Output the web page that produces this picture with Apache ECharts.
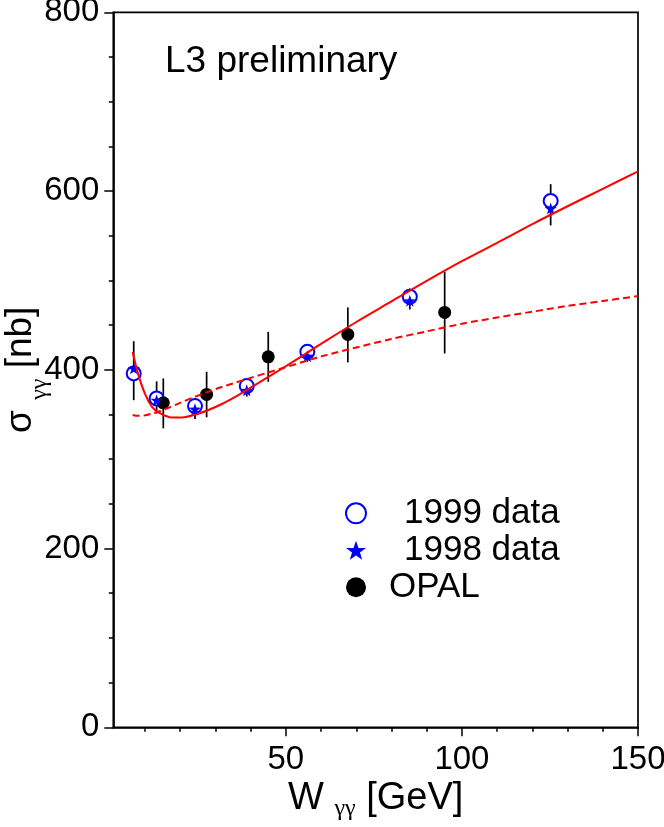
<!DOCTYPE html>
<html>
<head>
<meta charset="utf-8">
<script src="https://cdn.jsdelivr.net/npm/echarts@6/dist/echarts.min.js"></script>
<style>
html,body{margin:0;padding:0;background:#fff;}
#chart{width:664px;height:827px;}
</style>
</head>
<body>
<div id="chart"></div>
<script>
// ---- data ----
const x1999 = [6.8, 13.3, 24.2, 38.9, 56.1, 85.2, 125.2];
const y1999 = [396, 368, 359.4, 381.8, 420.1, 481.7, 589];
const lo1999 = [366, 351, 345, 370, 409, 467.5, 561.5];
const hi1999 = [432, 387, 368, 389, 428, 491, 607.7];

const x1998 = [6.8, 13.3, 24.2, 38.9, 56.1, 85.2, 125.2];
const y1998 = [401.6, 366, 356, 377, 415.3, 477.2, 580.5];

const xOpal = [15.2, 27.5, 45.0, 67.6, 95.1];
const yOpal = [363, 372.5, 414.5, 439.6, 464.2];
const loOpal = [334.5, 346.8, 386.6, 408.3, 418.3];
const hiOpal = [390.4, 397.8, 442.5, 469.8, 509.6];

const fitX = [6.5, 8, 10, 12, 14, 17, 20, 24, 28, 32, 36, 40, 45, 50, 55, 60, 70, 80, 90, 100, 110, 120, 130, 140, 150];
const fitSolid = [420, 396, 373, 358.5, 352, 347, 346.5, 349.5, 355, 362, 370.5, 380, 392, 404, 416.5, 429, 453.5, 476.5, 499.5, 521.5, 542, 563, 583, 602.5, 622];
const fitDashed = [349.5, 348.5, 349, 351, 353.5, 358, 363, 369.5, 375.5, 381, 386, 391, 397, 403, 409, 415, 425, 434.5, 443, 451.5, 458.5, 465, 471.5, 477, 482.5];

const xLabelValues = [50, 100, 150];
const xMinorTickValues = [10, 20, 30, 40, 60, 70, 80, 90, 110, 120, 130, 140];
const seriesNames = ['1999 data', '1998 data', 'OPAL'];

// ---- build ----
const zip = (xs, ys) => xs.map((x, i) => [x, ys[i]]);
const errData = [];
x1999.forEach((x, i) => errData.push([x, lo1999[i], hi1999[i]]));
xOpal.forEach((x, i) => errData.push([x, loOpal[i], hiOpal[i]]));

const STAR = 'path://M0,-10 L2.35,-3.24 L9.51,-3.09 L3.8,1.24 L5.88,8.09 L0,4 L-5.88,8.09 L-3.8,1.24 L-9.51,-3.09 L-2.35,-3.24 Z';
const FONT = '"Liberation Sans", Arial, Helvetica, sans-serif';
const SERIF = '"Liberation Serif", "DejaVu Serif", serif';

const chart = echarts.init(document.getElementById('chart'), null, {renderer: 'canvas'});
chart.setOption({
  animation: false,
  backgroundColor: '#fff',
  textStyle: {fontFamily: FONT},
  grid: {left: 113.3, right: 26, top: 12.3, bottom: 99.7, containLabel: false, outerBoundsMode: 'none',
         show: true, borderColor: '#000', borderWidth: 1.7, backgroundColor: 'transparent'},
  xAxis: [{
    type: 'value', min: 1, max: 150,
    splitLine: {show: false},
    axisLine: {show: true, onZero: false, lineStyle: {color: '#000', width: 1.7}},
    axisTick: {show: true, inside: false, length: 9, customValues: xLabelValues, lineStyle: {color: '#000', width: 1.5}},
    axisLabel: {show: true, customValues: xLabelValues, color: '#000', fontSize: 33, fontFamily: FONT, margin: 16},
    name: '{m|W }{s|γγ}{m| [GeV]}',
    nameLocation: 'middle', nameGap: 52, nameMoveOverlap: false,
    nameTextStyle: {
      rich: {
        m: {fontSize: 38, lineHeight: 38, color: '#000', fontFamily: FONT},
        s: {fontSize: 24, lineHeight: 24, color: '#000', fontFamily: SERIF, padding: [20, 0, 0, 0]}
      }
    }
  }, {
    type: 'value', min: 1, max: 150, position: 'bottom',
    splitLine: {show: false},
    axisLine: {show: false},
    axisTick: {show: true, inside: false, length: 4.5, customValues: xMinorTickValues, lineStyle: {color: '#000', width: 1.5}},
    axisLabel: {show: false}
  }],
  yAxis: {
    type: 'value', min: 0, max: 800, interval: 200,
    splitLine: {show: false},
    axisLine: {show: true, onZero: false, lineStyle: {color: '#000', width: 1.7}},
    axisTick: {show: true, inside: false, length: 9, lineStyle: {color: '#000', width: 1.5}},
    minorTick: {show: true, splitNumber: 4, length: 4.5, lineStyle: {color: '#000', width: 1.5}},
    axisLabel: {color: '#000', fontSize: 33, fontFamily: FONT, margin: 14},
    name: '{m|σ }{s|γγ}{m| [nb]}',
    nameLocation: 'middle', nameRotate: 90, nameGap: 74, nameMoveOverlap: false,
    nameTextStyle: {
      rich: {
        m: {fontSize: 37, lineHeight: 37, color: '#000', fontFamily: FONT},
        s: {fontSize: 24, lineHeight: 24, color: '#000', fontFamily: SERIF, padding: [38, 0, 0, 0]}
      }
    }
  },
  legend: {
    orient: 'vertical', left: 345, top: 495.8, padding: 0,
    itemWidth: 20, itemHeight: 20, itemGap: 2,
    data: seriesNames,
    formatter: n => (n === 'OPAL' ? '{b|' : '{a|') + n + '}',
    textStyle: {
      fontSize: 35, color: '#000', fontFamily: FONT,
      rich: {
        a: {fontSize: 35, lineHeight: 35, color: '#000', fontFamily: FONT, padding: [0, 0, 0, 33]},
        b: {fontSize: 35, lineHeight: 35, color: '#000', fontFamily: FONT, padding: [0, 0, 0, 18]}
      }
    },
    selectedMode: false
  },
  graphic: [{
    type: 'text', left: 165, top: 43,
    style: {text: 'L3 preliminary', font: '37px "Liberation Sans", Arial, sans-serif', fill: '#000'}
  }],
  series: [
    {
      type: 'custom', name: 'errors', z: 2,
      data: errData,
      renderItem: (params, api) => {
        const p1 = api.coord([api.value(0), api.value(1)]);
        const p2 = api.coord([api.value(0), api.value(2)]);
        return {type: 'line', shape: {x1: p1[0], y1: p1[1], x2: p2[0], y2: p2[1]}, style: {stroke: '#000', lineWidth: 1.7}};
      },
      encode: {x: 0, y: [1, 2]}
    },
    {
      type: 'scatter', name: '1999 data', z: 3,
      data: zip(x1999, y1999), symbol: 'emptyCircle', symbolSize: 14,
      itemStyle: {color: '#0000ff', borderColor: '#0000ff', borderWidth: 1.8, opacity: 1}
    },
    {
      type: 'scatter', name: '1998 data', z: 4,
      data: zip(x1998, y1998), symbol: STAR, symbolSize: 12,
      itemStyle: {color: '#0000ff', opacity: 1}
    },
    {
      type: 'scatter', name: 'OPAL', z: 3,
      data: zip(xOpal, yOpal), symbol: 'circle', symbolSize: 13,
      itemStyle: {color: '#000', opacity: 1}
    },
    {
      type: 'line', name: 'fit', z: 5,
      data: zip(fitX, fitSolid), showSymbol: false, symbol: 'none',
      smooth: 0.3,
      lineStyle: {color: '#ff0000', width: 2}
    },
    {
      type: 'line', name: 'fit2', z: 5,
      data: zip(fitX, fitDashed), showSymbol: false, symbol: 'none',
      smooth: 0.3,
      lineStyle: {color: '#ff0000', width: 2, type: [7, 4]}
    }
  ]
});
</script>
</body>
</html>
